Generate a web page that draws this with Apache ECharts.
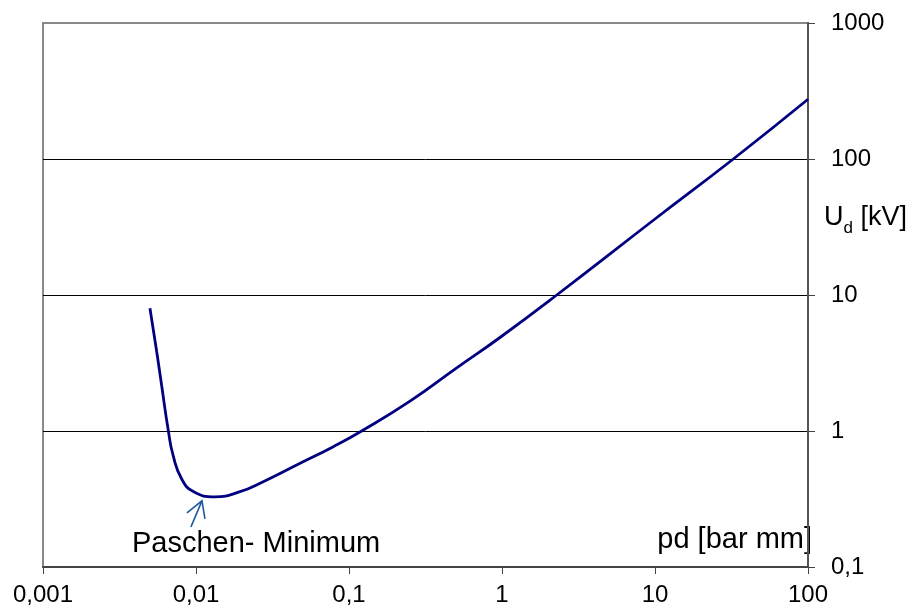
<!DOCTYPE html>
<html>
<head>
<meta charset="utf-8">
<script src="https://cdn.jsdelivr.net/npm/echarts@6/dist/echarts.min.js"></script>
<style>
html,body{margin:0;padding:0;background:#fff;}
#chart{width:916px;height:612px;}
</style>
</head>
<body>
<div id="chart"></div>
<script>
// pd [bar mm] values (x) and breakdown voltage U_d [kV] (y)
const pdValues = [0.005, 0.00554, 0.00597, 0.00659, 0.0071, 0.00806, 0.0096, 0.0133, 0.0194, 0.0275, 0.0455, 0.079, 0.121, 0.2505, 0.506, 0.97, 2.28, 10, 32.5, 100];
const udValues = [8.0, 3.81, 2.14, 1.009, 0.655, 0.444, 0.359, 0.328, 0.358, 0.424, 0.562, 0.767, 1.0, 1.656, 2.91, 4.87, 10.0, 36.2, 100, 275];
const xTickRange = [0.001, 100];
const yTickRange = [0.1, 1000];
const minimumPoint = [0.0133, 0.328];
const annotationText = 'Paschen- Minimum';
const xAxisName = 'pd [bar mm]';

const FONT = 'Arial, "Liberation Sans", sans-serif';
const fmt = v => String(+(+v).toPrecision(6)).replace('.', ',');

const chart = echarts.init(document.getElementById('chart'), null, {renderer: 'canvas'});
const option = {
  animation: false,
  backgroundColor: '#fff',
  grid: {left: 43, right: 108, top: 23, bottom: 45, show: true, borderColor: '#888', borderWidth: 2, backgroundColor: 'transparent'},
  xAxis: {
    type: 'log', logBase: 10, min: xTickRange[0], max: xTickRange[1],
    axisLine: {show: true, lineStyle: {color: '#444', width: 2}},
    axisTick: {show: true, inside: false, length: 7, lineStyle: {color: '#444', width: 1}},
    axisLabel: {color: '#000', fontSize: 24, fontFamily: FONT, margin: 16, formatter: fmt},
    splitLine: {show: false}, minorTick: {show: false}
  },
  yAxis: {
    type: 'log', logBase: 10, min: yTickRange[0], max: yTickRange[1], position: 'right',
    axisLine: {show: true, lineStyle: {color: '#555', width: 2}},
    axisTick: {show: true, inside: false, length: 7, lineStyle: {color: '#444', width: 1}},
    axisLabel: {color: '#000', fontSize: 24, fontFamily: FONT, margin: 23, formatter: fmt},
    splitLine: {show: true, showMinLine: false, showMaxLine: false, lineStyle: {color: '#000', width: 1}},
    minorTick: {show: false}
  },
  series: [{
    type: 'line',
    data: pdValues.map((x, i) => [x, udValues[i]]),
    smooth: 0.5,
    showSymbol: false,
    lineStyle: {color: '#000080', width: 2.8},
    z: 5
  }],
  graphic: [
    {id: 'lblMin', type: 'text', left: 132, top: 529, style: {text: annotationText, fontSize: 29, fontFamily: FONT, fill: '#000'}},
    {id: 'lblX', type: 'text', right: 104, top: 525, style: {text: xAxisName, fontSize: 29, fontFamily: FONT, fill: '#000'}},
    {id: 'lblY', type: 'text', left: 824, top: 204, style: {
      text: '{u|U}{d|d}{u| [kV]}',
      rich: {
        u: {fontSize: 27, fontFamily: FONT, fill: '#000', verticalAlign: 'bottom'},
        d: {fontSize: 17, fontFamily: FONT, fill: '#000', padding: [0, 0, -6, 0], verticalAlign: 'bottom'}
      }
    }}
  ]
};
chart.setOption(option);

// arrow pointing at the minimum, positioned relative to the data point
const p = chart.convertToPixel({gridIndex: 0}, minimumPoint);
const tip = [p[0] - 13, p[1] + 4];
chart.setOption({
  graphic: [
    {id: 'arrowShaft', type: 'polyline', shape: {points: [[p[0] - 24, p[1] + 30], tip]}, style: {stroke: '#1f5a9a', lineWidth: 1.6, fill: null}, z: 10},
    {id: 'arrowHead', type: 'polyline', shape: {points: [[p[0] - 28, p[1] + 16], tip, [p[0] - 10, p[1] + 22]]}, style: {stroke: '#1f5a9a', lineWidth: 1.6, fill: null}, z: 10}
  ]
});
</script>
</body>
</html>
